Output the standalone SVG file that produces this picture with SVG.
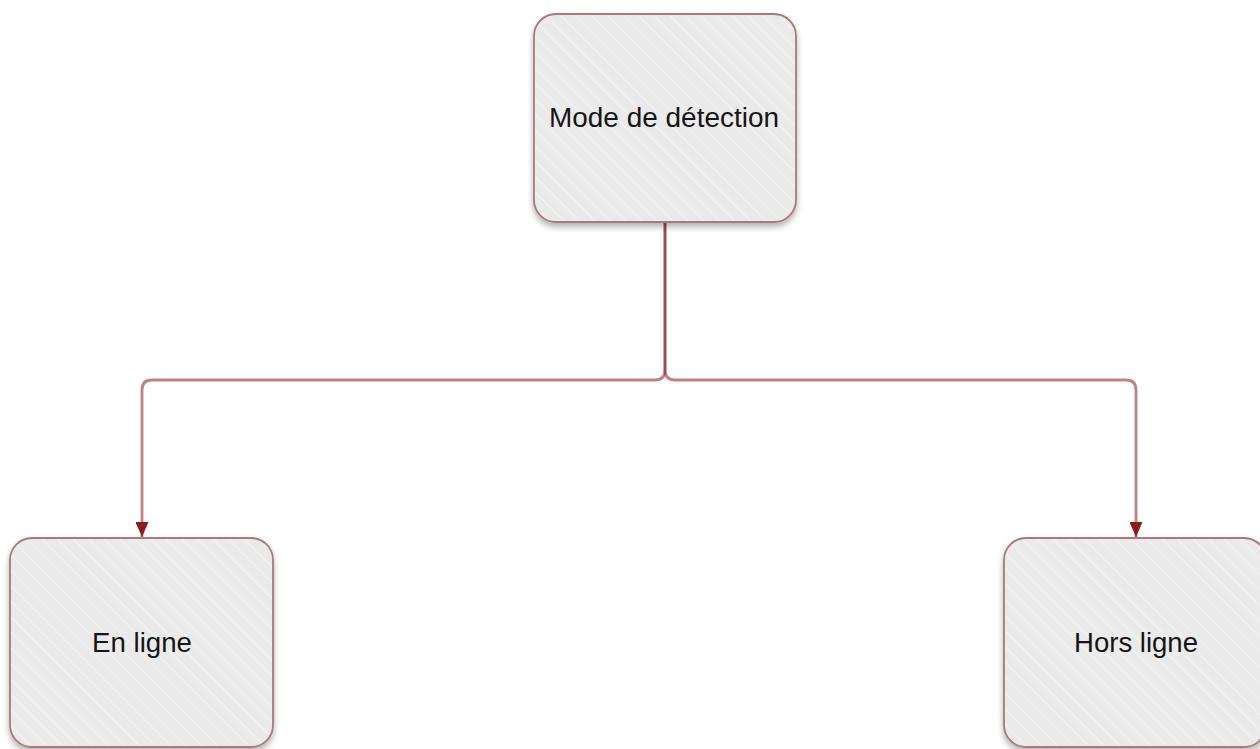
<svg xmlns="http://www.w3.org/2000/svg" width="1260" height="749" viewBox="0 0 1260 749">
  <defs>
    <pattern id="hatch" width="11" height="11" patternUnits="userSpaceOnUse" patternTransform="rotate(-45)">
      <rect width="11" height="11" fill="#eaeaea"/>
      <line x1="0" y1="0" x2="0" y2="11" stroke="#f7f7f7" stroke-width="1.4"/>
    </pattern>
    <filter id="shadow" x="-10%" y="-10%" width="120%" height="130%">
      <feDropShadow dx="0" dy="4" stdDeviation="3" flood-color="#000" flood-opacity="0.3"/>
    </filter>
    <!-- arrowhead drawn along +x so orient="auto" points it down the line -->
    <marker id="arrow" viewBox="0 0 15 13" refX="15" refY="6.5" markerWidth="15" markerHeight="13" markerUnits="userSpaceOnUse" orient="auto">
      <path d="M0,0 L15,6.5 L0,13 Z" fill="#8b1c1c"/>
    </marker>
  </defs>
  <style>
    .box { fill: url(#hatch); stroke: #a87a7a; stroke-width: 1.8; filter: url(#shadow); }
    .label { font-family: "Liberation Sans", Arial, sans-serif; fill: #151515; text-anchor: middle; }
    .link { fill: none; stroke: #8b1c1c; stroke-opacity: 0.55; stroke-width: 2.8; }
  </style>

  <rect width="1260" height="749" fill="#ffffff"/>

  <g id="connectors">
    <path class="link" d="M665,223 V370 Q665,380 655,380 H152 Q142,380 142,390 V537" marker-end="url(#arrow)"/>
    <path class="link" d="M665,223 V370 Q665,380 675,380 H1126 Q1136,380 1136,390 V537" marker-end="url(#arrow)"/>
  </g>

  <g id="node-mode">
    <rect class="box" x="534" y="14" width="262" height="208" rx="22"/>
    <text class="label" x="664" y="127" font-size="27" textLength="230" lengthAdjust="spacingAndGlyphs">Mode de détection</text>
  </g>

  <g id="node-en-ligne">
    <rect class="box" x="10" y="538" width="263" height="209" rx="22"/>
    <text class="label" x="142" y="652" font-size="27" textLength="100" lengthAdjust="spacingAndGlyphs">En ligne</text>
  </g>

  <g id="node-hors-ligne">
    <rect class="box" x="1004" y="538" width="262" height="209" rx="22"/>
    <text class="label" x="1136" y="652" font-size="27" textLength="124" lengthAdjust="spacingAndGlyphs">Hors ligne</text>
  </g>
</svg>
